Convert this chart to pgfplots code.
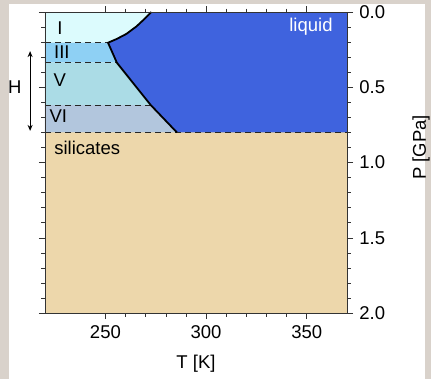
\documentclass[border=0pt]{standalone}
\usepackage{pgfplots}
\pgfplotsset{compat=1.18}
\usepackage{fontspec}
\setmainfont{Liberation Sans}
\usetikzlibrary{arrows.meta}
\definecolor{bgm}{HTML}{D9D2CB}
\definecolor{iceI}{HTML}{DCFBFD}
\definecolor{iceIII}{HTML}{8ED0F4}
\definecolor{iceV}{HTML}{ABDCE6}
\definecolor{iceVI}{HTML}{B2C6DD}
\definecolor{liq}{HTML}{3F63DE}
\definecolor{sil}{HTML}{EDD7AB}
\begin{document}
\fontsize{18.5bp}{22bp}\selectfont
\begin{tikzpicture}[x=1bp,y=1bp]
\useasboundingbox (0,0) rectangle (431,379);
\fill[bgm] (0,0) rectangle (431,379);
\fill[white] (9,0) rectangle (425,375);
\begin{axis}[
  at={(45bp,66bp)}, anchor=south west,
  scale only axis, width=302bp, height=301bp,
  xmin=220, xmax=370, ymin=0, ymax=2,
  y dir=reverse,
  xtick={250,300,350}, minor x tick num=4,
  ytick={0,0.5,1,1.5,2}, minor y tick num=4,
  yticklabel pos=right,
  xtick pos=both, ytick pos=both,
  tick align=outside,
  major tick length=6bp, minor tick length=3.5bp,
  tick style={black!80, line width=0.5bp},
  axis line style={black!80, line width=0.5bp},
  yticklabel style={/pgf/number format/fixed,/pgf/number format/precision=1,/pgf/number format/fixed zerofill},
  /pgf/number format/assume math mode=true,
  ticklabel style={font=\fontsize{18.5bp}{22bp}\selectfont},
  label style={font=\fontsize{18.5bp}{22bp}\selectfont},
  xlabel={T [K]},
  ylabel={P [GPa]},
  ylabel style={at={(axis description cs:1.245,0.55)}, anchor=center},
  xlabel style={at={(axis description cs:0.5,-0.12)}, anchor=north},
  clip=false,
  axis on top,
]
% silicates
\addplot[fill=sil, draw=none] coordinates {(220,0.8) (370,0.8) (370,2) (220,2)} -- cycle;
% liquid
\addplot[fill=liq, draw=none] coordinates {(272.8,0) (269.5,0.045) (265.5,0.095) (260.5,0.145) (255.5,0.180) (251.3,0.204) (255.7,0.337) (272.5,0.618) (285.5,0.8) (370,0.8) (370,0)} -- cycle;
% ice I
\addplot[fill=iceI, draw=none] coordinates {(220,0) (272.8,0) (269.5,0.045) (265.5,0.095) (260.5,0.145) (255.5,0.180) (251.3,0.204) (220,0.204)} -- cycle;
% ice III
\addplot[fill=iceIII, draw=none] coordinates {(220,0.204) (251.3,0.204) (255.7,0.337) (220,0.337)} -- cycle;
% ice V
\addplot[fill=iceV, draw=none] coordinates {(220,0.337) (255.7,0.337) (272.5,0.618) (220,0.618)} -- cycle;
% ice VI
\addplot[fill=iceVI, draw=none] coordinates {(220,0.618) (272.5,0.618) (285.5,0.8) (220,0.8)} -- cycle;
% dashed boundaries
\addplot[black!85, dashed, dash pattern=on 6bp off 4bp, line width=0.9bp] coordinates {(220,0.204) (251.3,0.204)};
\addplot[black!85, dashed, dash pattern=on 6bp off 4bp, line width=0.9bp] coordinates {(220,0.337) (255.7,0.337)};
\addplot[black!85, dashed, dash pattern=on 6bp off 4bp, line width=0.9bp] coordinates {(220,0.618) (272.5,0.618)};
\addplot[black!85, dashed, dash pattern=on 6bp off 4bp, line width=0.9bp] coordinates {(220,0.8) (370,0.8)};
% melting curve
\addplot[black, line width=1.8bp, line join=round] coordinates {(272.8,0) (269.5,0.045) (265.5,0.095) (260.5,0.145) (255.5,0.180) (251.3,0.204) (255.7,0.337) (272.5,0.618) (285.5,0.8)};
% labels
\node at (axis cs:227.4,0.106) {I};
\node at (axis cs:228.4,0.266) {III};
\node at (axis cs:227.4,0.45) {V};
\node at (axis cs:226.6,0.69) {VI};
\node[anchor=west] at (axis cs:221.5,0.905) {silicates};
\node[anchor=east, text=white] at (axis cs:366,0.10) {liquid};
\draw[{Stealth[length=6bp,width=5bp]}-{Stealth[length=6bp,width=5bp]}, line width=0.9bp] (axis cs:212.6,0.26) -- (axis cs:212.6,0.79);
\node at (axis cs:205,0.498) {H};
\end{axis}
\end{tikzpicture}
\end{document}
